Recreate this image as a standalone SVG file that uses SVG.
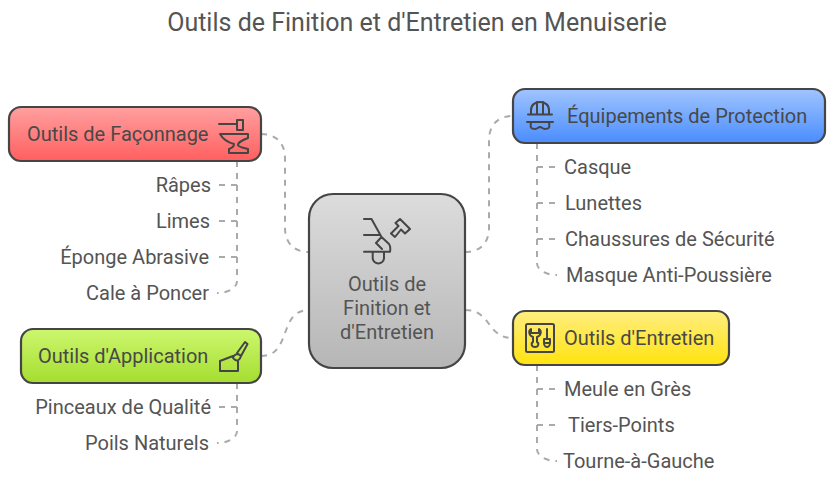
<svg xmlns="http://www.w3.org/2000/svg" width="834" height="482" viewBox="0 0 834 482">
<style>
text{font-family:Roboto,"Liberation Sans",sans-serif;font-size:20px;fill:#545454}
.t{fill:#484848}
.box{stroke:#454545;stroke-width:2.2}
.ic{fill:none;stroke:#454545;stroke-width:2;stroke-linejoin:round;stroke-linecap:round}
.c{fill:none;stroke:#aaaaaa;stroke-width:2;stroke-dasharray:6 6}
.e{text-anchor:end}
.m{text-anchor:middle}
</style>
<defs>
<linearGradient id="red" x1="0" y1="0" x2="0" y2="1"><stop offset="0" stop-color="#ffa0a0"/><stop offset="1" stop-color="#ff5f5f"/></linearGradient>
<linearGradient id="green" x1="0" y1="0" x2="0" y2="1"><stop offset="0" stop-color="#cdf76f"/><stop offset="1" stop-color="#a5dd2f"/></linearGradient>
<linearGradient id="blue" x1="0" y1="0" x2="0" y2="1"><stop offset="0" stop-color="#a0c4ff"/><stop offset="1" stop-color="#4a8dfd"/></linearGradient>
<linearGradient id="yellow" x1="0" y1="0" x2="0" y2="1"><stop offset="0" stop-color="#ffee80"/><stop offset="1" stop-color="#ffe30f"/></linearGradient>
<linearGradient id="grey" x1="0" y1="0" x2="0" y2="1"><stop offset="0" stop-color="#dcdcdc"/><stop offset="1" stop-color="#b6b6b6"/></linearGradient>
</defs>
<text x="417" y="31" class="m" style="font-size:25px">Outils de Finition et d'Entretien en Menuiserie</text>
<g id="connectors">
<path class="c" d="M261 134C276 134 285 143 285 158V228C285 243 294 252 309 252"/>
<path class="c" d="M465 252C480 252 489 243 489 228V140C489 125 498 116 513 116"/>
<path class="c" d="M465 310C492 310 486 338 513 338"/>
<path class="c" d="M261 356C292 356 278 310 309 310"/>
<path class="c" d="M237 161V281C237 288 228 293 217 293"/>
<path class="c" d="M237 185H219M237 221H219M237 257H219"/>
<path class="c" d="M237 383V431C237 438 228 443 217 443"/>
<path class="c" d="M237 407H219"/>
<path class="c" d="M537 143V263C537 270 546 275 557 275"/>
<path class="c" d="M537 167H555M537 203H555M537 239H555"/>
<path class="c" d="M537 365V449C537 456 546 461 557 461"/>
<path class="c" d="M537 389H555M537 425H555"/>
</g>
<g id="node-center">
<rect class="box" x="309" y="194" width="156" height="174" rx="24" fill="url(#grey)"/>
<path class="ic" d="M364 219H371.500L381.500 237M364 235H379.500M364 251.700H390M372.700 251.700V258.500A5.700 5.700 0 0 0 384 258.500V251.700M376 243L381.500 237L389 244C390.500 246 390.500 249 390 251.700M376 243L382 249M395.500 223L400 219L410 229L405 233.500L401 229.500L395 237L391 233.500L398.500 226Z"/>
<text x="387" y="291" class="m">Outils de</text>
<text x="387" y="315" class="m">Finition et</text>
<text x="387" y="339" class="m">d'Entretien</text>
</g>
<g id="node-faconnage">
<rect class="box" x="9" y="107" width="252" height="54" rx="12" fill="url(#red)"/>
<text x="27" y="141" class="t">Outils de Façonnage</text>
<path class="ic" d="M219 124H237M237 120H243V130H237ZM220 134H248V138C243 140 238 142 238 145C238 147 244 148 248 149V153H229V149C232 148 234 146 234 144C230 143 224 141 220 134Z"/>
</g>
<g id="node-application">
<rect class="box" x="21" y="329" width="240" height="54" rx="12" fill="url(#green)"/>
<text x="38" y="363" class="t">Outils d'Application</text>
<path class="ic" d="M233 356L220 361V371H238V361M237 353L245 342L247.500 344L241 356ZM233 358C234 354 238 353 241 356C240 360 237 362 234 359"/>
</g>
<g id="node-protection">
<rect class="box" x="513" y="89" width="312" height="54" rx="12" fill="url(#blue)"/>
<text x="567" y="123" class="t">Équipements de Protection</text>
<path class="ic" d="M531 114V110C531 105 535 102 540 102C545 102 549 105 549 110V114M528 114.500H552M537 102V114M543 102V114M527 122H553M531 122C530 128 531 129 535 129C538 129 538 127 540 127C542 127 542 129 545 129C549 129 550 128 549 122"/>
</g>
<g id="node-entretien">
<rect class="box" x="513" y="311" width="216" height="54" rx="12" fill="url(#yellow)"/>
<text x="564" y="345" class="t">Outils d'Entretien</text>
<path class="ic" d="M527.500 324H552.500Q554 324 554 325.500V350.500Q554 352 552.500 352H527.500Q526 352 526 350.500V325.500Q526 324 527.500 324ZM531 329C528 331 529 336 533 337V342C531 343 531 347 535 347C539 347 539 343 537 342V337C541 336 542 331 539 329V333H531ZM547 329V339M544 339H550V343C550 346 548 347 547 347C546 347 544 346 544 343ZM544 343H550"/>
</g>
<g id="leaves">
<text x="211" y="192" class="e">Râpes</text>
<text x="210" y="228" class="e">Limes</text>
<text x="209" y="264" class="e">Éponge Abrasive</text>
<text x="209" y="300" class="e">Cale à Poncer</text>
<text x="211" y="414" class="e">Pinceaux de Qualité</text>
<text x="209" y="450" class="e">Poils Naturels</text>
<text x="564" y="174">Casque</text>
<text x="565" y="210">Lunettes</text>
<text x="565" y="246">Chaussures de Sécurité</text>
<text x="566" y="282">Masque Anti-Poussière</text>
<text x="564" y="396">Meule en Grès</text>
<text x="568" y="432">Tiers-Points</text>
<text x="563" y="468">Tourne-à-Gauche</text>
</g>
</svg>
